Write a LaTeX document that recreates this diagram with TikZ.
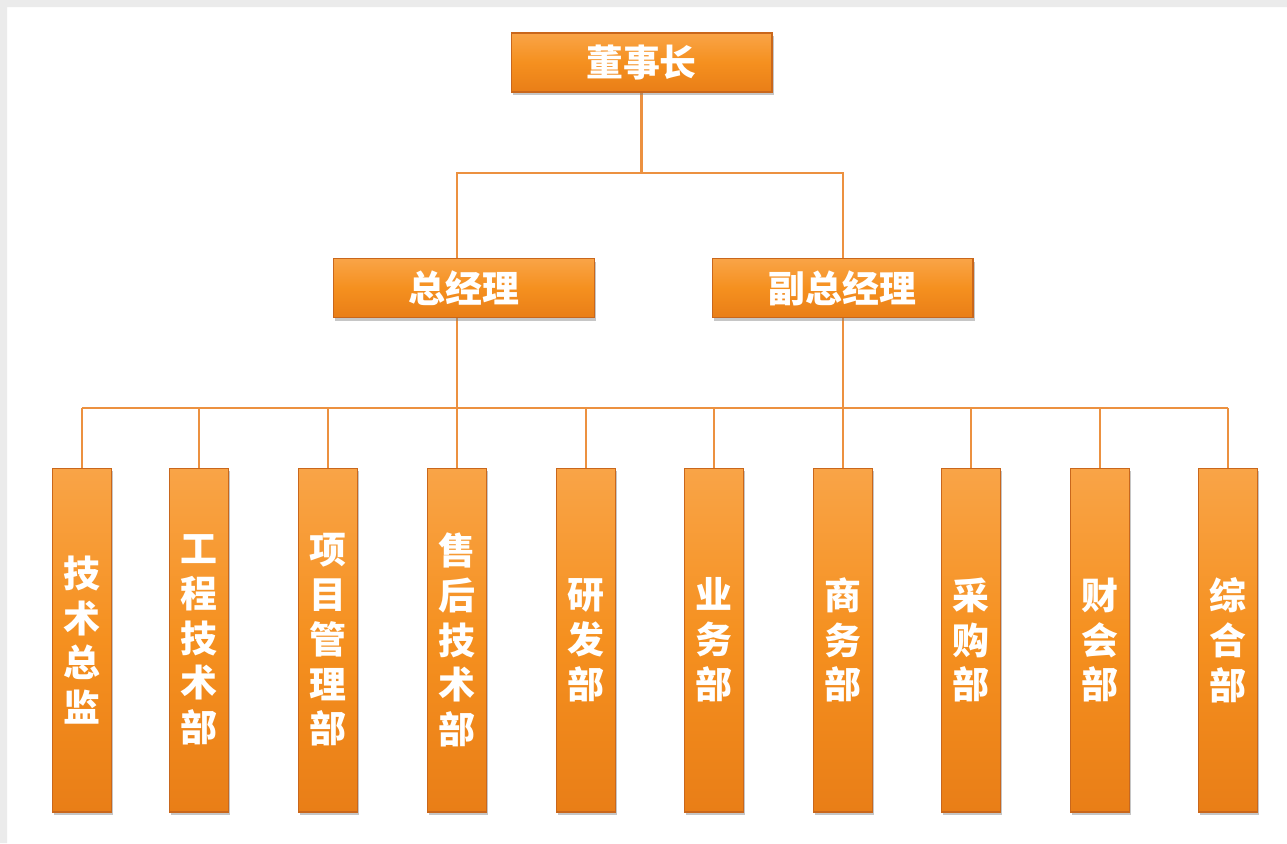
\documentclass[tikz,border=0pt]{standalone}
\usepackage{fontspec}
\newfontfamily\cjk{Noto Sans CJK SC}
\usetikzlibrary{shadows,backgrounds}
\definecolor{boxtop}{HTML}{F9A447}
\definecolor{boxmid}{HTML}{F5901F}
\definecolor{boxbot}{HTML}{E97E17}
\definecolor{boxedge}{HTML}{C9671C}
\definecolor{linkc}{HTML}{EC9140}
\definecolor{frame}{HTML}{EBEBEB}
\begin{document}
\begin{tikzpicture}[x=0.02cm,y=-0.02cm,
  box/.style={rectangle,inner sep=0pt,draw=boxedge,line width=0.6pt,top color=boxtop,bottom color=boxbot,middle color=boxmid,
    drop shadow={opacity=0.45,shadow xshift=1pt,shadow yshift=-1.8pt},text=white,font=\cjk\bfseries\fontsize{21}{25.5}\selectfont},
  head/.style={box,minimum width=5.22cm,minimum height=1.18cm},
  dept/.style={box,minimum width=1.18cm,minimum height=6.88cm,align=center},
  link/.style={draw=linkc,line width=1.6pt}]
\useasboundingbox (0,0) rectangle (1287,843);
\node[head] (dsz) at (641.5,62.5) {董事长};
\node[head] (zjl) at (464,288) {总经理};
\node[head] (fzjl) at (842.5,288) {副总经理};
\foreach \x/\t [count=\i] in {82/技\\术\\总\\监,199/工\\程\\技\\术\\部,328/项\\目\\管\\理\\部,457/售\\后\\技\\术\\部,586/研\\发\\部,
    714/业\\务\\部,843/商\\务\\部,971/采\\购\\部,1100/财\\会\\部,1228/综\\合\\部}
  \node[dept] (d\i) at (\x,640) {\t};
\coordinate (top) at (641.5,173);
\coordinate (bus) at (0,408);
\begin{scope}[on background layer]
\fill[frame] (0,0) rectangle (1287,7) (0,0) rectangle (7,843);
\draw[link] (dsz) -- (top);
\draw[link] (d4.north) -- (d4.north |- top) -- (d7.north |- top) -- (d7.north);
\draw[link] (d1.north |- bus) -- (d10.north |- bus);
\foreach \i in {1,...,10}
  \draw[link] (d\i.north) -- (d\i.north |- bus);
\end{scope}
\end{tikzpicture}
\end{document}
